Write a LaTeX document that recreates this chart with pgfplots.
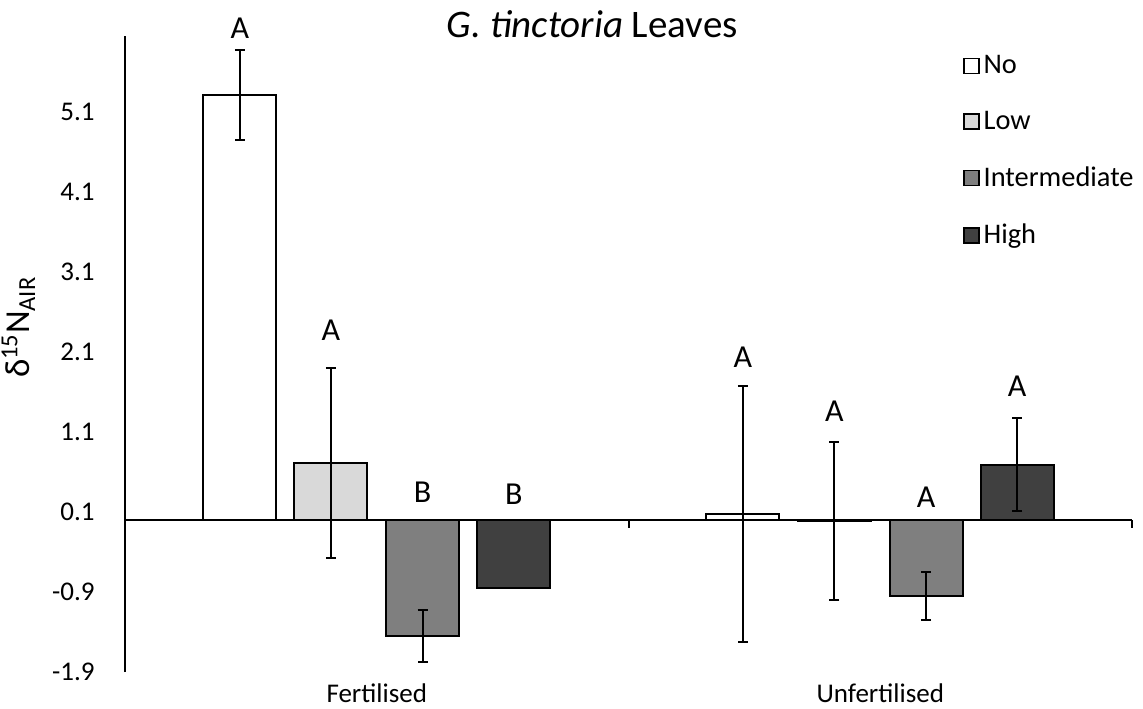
\documentclass[border=0pt]{standalone}
\usepackage{fontspec}
\setmainfont{Carlito}
\usepackage{pgfplots}
\pgfplotsset{compat=1.18}

\definecolor{cNo}{RGB}{255,255,255}
\definecolor{cLow}{RGB}{217,217,217}
\definecolor{cMid}{RGB}{127,127,127}
\definecolor{cHigh}{RGB}{64,64,64}

\pgfplotsset{
  gbar/.style={ybar, bar shift=0pt, bar width=0.145, draw=black, line width=1pt,
    error bars/.cd, y dir=both, y explicit,
      error bar style={line width=1pt, black},
      error mark options={rotate=90, black, line width=1pt, mark size=2.5pt},
    /pgfplots/.cd,
    legend image code/.code={\draw[##1, line width=0.7pt] (0pt,-3.75pt) rectangle (7.5pt,3.75pt);}},
}

\begin{document}
\begin{tikzpicture}
\useasboundingbox (0,0) rectangle (571.5pt,354pt);
\begin{axis}[
  at={(62.5pt,18pt)}, anchor=south west,
  scale only axis, width=503.5pt, height=318pt,
  xmin=-0.5, xmax=1.5, ymin=-1.9, ymax=6.05,
  clip=false,
  axis y line*=left, y axis line style={-, line width=1pt},
  axis x line*=bottom, x axis line style={draw=none},
  xtick={0,1}, xticklabels={Fertilised,Unfertilised},
  ytick={-1.9,-0.9,0.1,1.1,2.1,3.1,4.1,5.1},
  yticklabels={-1.9,-0.9,0.1,1.1,2.1,3.1,4.1,5.1},
  major tick length=0pt, tick style={draw=none},
  tick label style={font=\fontsize{13.5}{16}\selectfont},
  yticklabel style={anchor=east, inner sep=0pt, xshift=-15pt},
  xticklabel style={anchor=center, yshift=-10.5pt},
  ylabel={δ\textsuperscript{15}N\textsubscript{AIR}},
  ylabel style={at={(axis description cs:-0.106,0.542)}, anchor=center, font=\fontsize{17.5}{20}\selectfont},
  title={\textit{G. tinctoria} Leaves},
  title style={at={(axis description cs:0.464,1)}, anchor=center, yshift=0pt, font=\fontsize{19.5}{23}\selectfont},
  legend style={draw=none, fill=none, at={(axis description cs:0.826,0.983)}, anchor=north west,
    font=\fontsize{14.2}{17}\selectfont, row sep=13.3pt},
  legend cell align=left,
]
\addplot[gbar, fill=cNo] coordinates {(-0.272,5.31) +- (0,0.565) (0.727,0.075) +- (0,1.60)};
\addlegendentry{No}
\addplot[gbar, fill=cLow] coordinates {(-0.091,0.71) +- (0,1.19) (0.909,-0.01) +- (0,0.99)};
\addlegendentry{Low}
\addplot[gbar, fill=cMid] coordinates {(0.091,-1.45) +- (0,0.33) (1.091,-0.95) +- (0,0.305)};
\addlegendentry{Intermediate}
\addplot[gbar, fill=cHigh] coordinates {(0.272,-0.85) +- (0,0) (1.272,0.69) +- (0,0.58)};
\addlegendentry{High}

\draw[line width=1pt] (axis cs:-0.5,0) -- (axis cs:1.5,0);
\draw[line width=1pt] (axis cs:0.5,0) -- ([yshift=-4pt]axis cs:0.5,0);
\draw[line width=1pt] (axis cs:1.5,0) -- ([yshift=-4pt]axis cs:1.5,0);

\begin{scope}[font=\fontsize{16}{19}\selectfont]
\node at (axis cs:-0.272,6.15) {A};
\node at (axis cs:-0.091,2.375) {A};
\node at (axis cs:0.091,0.35) {B};
\node at (axis cs:0.272,0.325) {B};
\node at (axis cs:0.727,2.03) {A};
\node at (axis cs:0.909,1.36) {A};
\node at (axis cs:1.091,0.29) {A};
\node at (axis cs:1.272,1.675) {A};
\end{scope}
\end{axis}
\end{tikzpicture}
\end{document}
